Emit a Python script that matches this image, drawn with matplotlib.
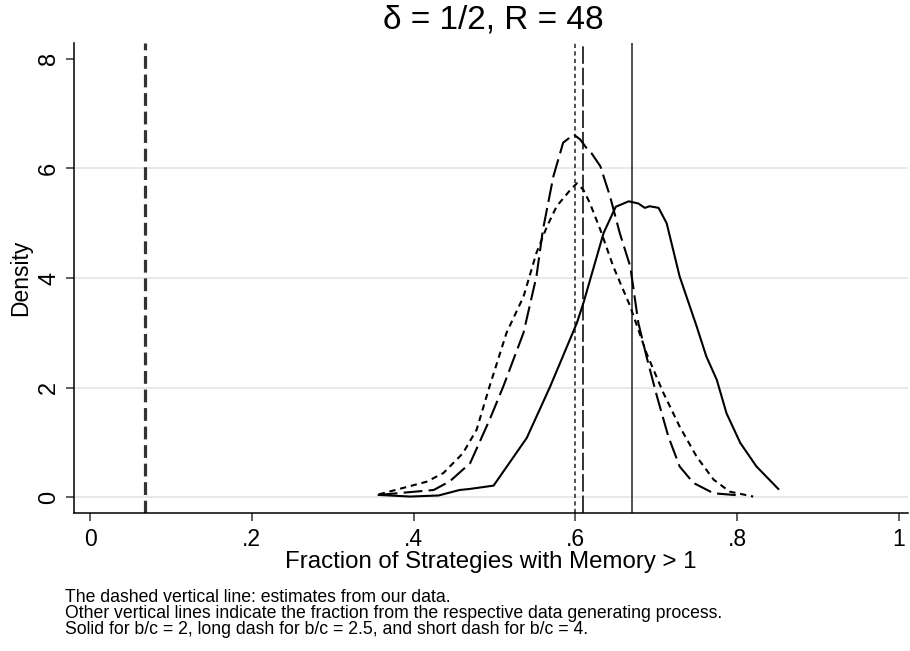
import matplotlib
matplotlib.use("Agg")
import matplotlib.pyplot as plt

plt.rcParams['font.family'] = ['Liberation Sans', 'DejaVu Sans']

# b/c = 2 (solid)
x_bc2 = [0.357, 0.396, 0.431, 0.457, 0.470, 0.499, 0.540, 0.569, 0.602, 0.610, 0.635, 0.650,
         0.666, 0.678, 0.686, 0.692, 0.703, 0.713, 0.729, 0.750, 0.762, 0.775, 0.787, 0.804,
         0.824, 0.851]
y_bc2 = [0.04, 0.01, 0.03, 0.13, 0.15, 0.21, 1.08, 2.02, 3.18, 3.54, 4.82, 5.30,
         5.40, 5.36, 5.28, 5.31, 5.28, 5.00, 4.03, 3.12, 2.57, 2.14, 1.53, 0.99,
         0.56, 0.15]

# b/c = 2.5 (long dash)
x_bc25 = [0.357, 0.425, 0.445, 0.470, 0.494, 0.511, 0.536, 0.552, 0.560, 0.573, 0.585, 0.598,
          0.606, 0.614, 0.620, 0.631, 0.643, 0.655, 0.668, 0.678, 0.688, 0.701, 0.715, 0.729,
          0.746, 0.771, 0.804]
y_bc25 = [0.04, 0.13, 0.29, 0.62, 1.41, 2.02, 3.00, 4.03, 4.88, 5.86, 6.47, 6.62,
          6.53, 6.37, 6.28, 6.04, 5.49, 4.82, 4.21, 3.18, 2.57, 1.84, 1.11, 0.56,
          0.26, 0.07, 0.03]

# b/c = 4 (short dash)
x_bc4 = [0.357, 0.416, 0.437, 0.461, 0.478, 0.494, 0.515, 0.536, 0.552, 0.565, 0.577, 0.594,
         0.602, 0.610, 0.618, 0.631, 0.647, 0.668, 0.688, 0.709, 0.729, 0.750, 0.771, 0.791,
         0.820]
y_bc4 = [0.05, 0.28, 0.44, 0.80, 1.23, 2.02, 3.00, 3.66, 4.46, 4.94, 5.31, 5.61,
         5.73, 5.61, 5.37, 4.88, 4.21, 3.48, 2.63, 1.90, 1.29, 0.74, 0.32, 0.10,
         0.01]

estimate_ours = 0.068
dgp_bc2 = 0.67
dgp_bc25 = 0.61
dgp_bc4 = 0.60

xticks = [0, 0.2, 0.4, 0.6, 0.8, 1.0]
xticklabels = ["0", ".2", ".4", ".6", ".8", "1"]
yticks = [0, 2, 4, 6, 8]
yticklabels = ["0", "2", "4", "6", "8"]

title = "δ = 1/2, R = 48"
xlabel = "Fraction of Strategies with Memory > 1"
ylabel = "Density"
notes = ["The dashed vertical line: estimates from our data.",
         "Other vertical lines indicate the fraction from the respective data generating process.",
         "Solid for b/c = 2, long dash for b/c = 2.5, and short dash for b/c = 4."]

W, H = 910, 651
fig = plt.figure(figsize=(W / 100, H / 100), dpi=100)
fig.patch.set_facecolor("white")
ax = fig.add_axes([74 / W, 1 - 513 / H, (908 - 74) / W, (513 - 43) / H])

ax.set_xlim(-0.0198, 1.0114)
ax.set_ylim(-0.29, 8.29)

for yv in yticks[:-1]:
    ax.axhline(yv, color="#e6e6e6", lw=1.3, zorder=0)

ax.plot(x_bc2, y_bc2, color="black", lw=1.5, ls="-", zorder=3)
ax.plot(x_bc25, y_bc25, color="black", lw=1.5, ls=(0, (9, 3)), zorder=3)
ax.plot(x_bc4, y_bc4, color="black", lw=1.5, ls=(0, (3, 2.3)), zorder=3)

ax.axvline(estimate_ours, color="#333333", lw=2.3, ls=(0, (4, 1.8)), zorder=2)
ax.axvline(dgp_bc2, color="#333333", lw=1.2, ls="-", zorder=2)
ax.axvline(dgp_bc25, color="#333333", lw=1.4, ls=(0, (9, 2)), zorder=2)
ax.axvline(dgp_bc4, color="#333333", lw=1.2, ls=(0, (2.5, 2)), zorder=2)

ax.set_xticks(xticks)
ax.set_xticklabels(xticklabels, fontsize=16.5)
ax.set_yticks(yticks)
ax.set_yticklabels(yticklabels, fontsize=17, rotation=90, va="center")
ax.tick_params(axis="both", length=6, width=1.2, color="#444444")
ax.tick_params(axis="x", pad=4.5)
ax.tick_params(axis="y", pad=4)

for s in ["top", "right"]:
    ax.spines[s].set_visible(False)
for s in ["left", "bottom"]:
    ax.spines[s].set_linewidth(1.1)
    ax.spines[s].set_color("black")

ax.set_xlabel(xlabel, fontsize=17.3, labelpad=0.5)
ax.set_ylabel(ylabel, fontsize=16.4, labelpad=4)

fig.text(493 / W, 1 - 28.5 / H, title, ha="center", va="baseline", fontsize=24)

fig.text(65 / W, 1 - 589.5 / H, "\n".join(notes), ha="left", va="top",
         fontsize=12.7, linespacing=0.92)

fig.savefig("out.png", dpi=100, facecolor="white")
